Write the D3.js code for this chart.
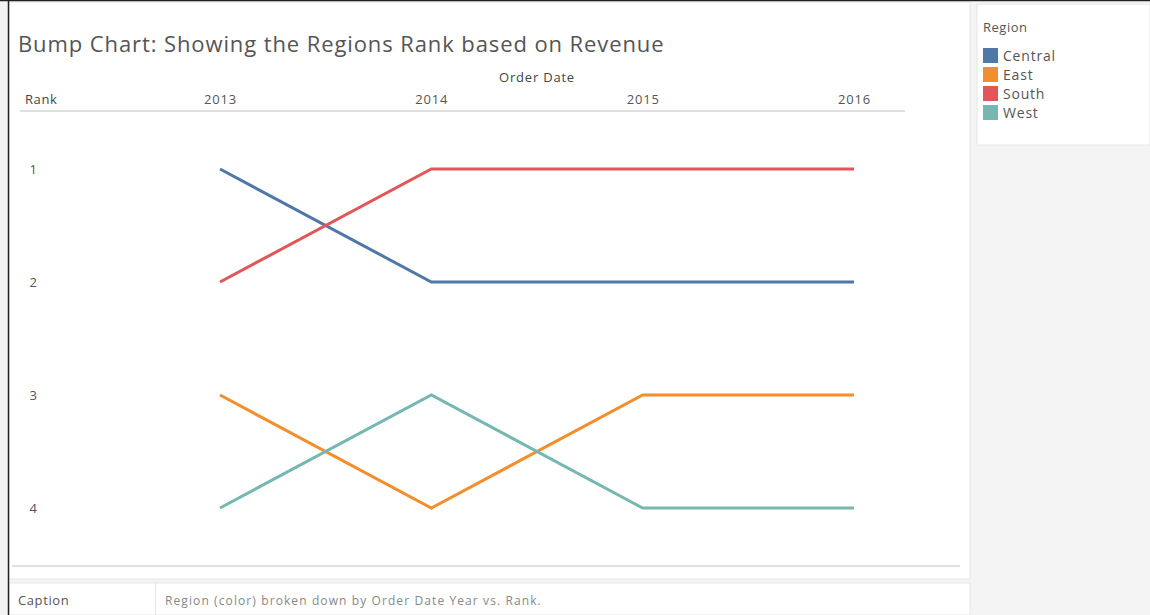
<!DOCTYPE html>
<html><head><meta charset="utf-8">
<script src="https://cdn.jsdelivr.net/npm/d3@7"></script>
<style>
body{margin:0;background:#f5f5f5;}
svg{display:block;font-family:"Open Sans","Noto Sans",sans-serif;}
</style></head>
<body><svg id="c" width="1150" height="615"></svg>
<script>
const years = ["2013","2014","2015","2016"];
const regions = ["Central","East","South","West"];
const rankCentral = [1,2,2,2];
const rankEast = [3,4,3,3];
const rankSouth = [2,1,1,1];
const rankWest = [4,3,4,4];
const rankTicks = [1,2,3,4];
const colors = ["#4e79a7","#f28e2b","#e15759","#76b7b2"];

const series = [
  {name:"Central", values:rankCentral},
  {name:"East", values:rankEast},
  {name:"South", values:rankSouth},
  {name:"West", values:rankWest}
];

const svg = d3.select("#c");
const FONT = "Open Sans, Noto Sans, sans-serif";

// panels
svg.append("rect").attr("x",0).attr("y",0).attr("width",1150).attr("height",615).attr("fill","#f4f4f4");
svg.append("rect").attr("x",9).attr("y",2).attr("width",961).attr("height",577).attr("fill","#fff").attr("stroke","#e6e6e6");
svg.append("rect").attr("x",977).attr("y",4).attr("width",173).attr("height",141).attr("fill","#fff").attr("stroke","#e6e6e6");
svg.append("rect").attr("x",9).attr("y",583).attr("width",961).attr("height",32).attr("fill","#fff").attr("stroke","#e6e6e6");
svg.append("line").attr("x1",155.5).attr("x2",155.5).attr("y1",583).attr("y2",615).attr("stroke","#e6e6e6");
// outer black border
svg.append("line").attr("x1",0).attr("x2",1150).attr("y1",0.5).attr("y2",0.5).attr("stroke","#222").attr("stroke-width",1.5);
svg.append("line").attr("x1",8.5).attr("x2",8.5).attr("y1",0).attr("y2",615).attr("stroke","#222").attr("stroke-width",1.5);

// title
svg.append("text").attr("x",18).attr("y",52).attr("font-size",22).attr("letter-spacing",0.9).attr("fill","#555")
  .text("Bump Chart: Showing the Regions Rank based on Revenue");

const x = d3.scalePoint().domain(years).range([220,854]);
const y = d3.scaleLinear().domain([1,4]).range([169,508]);

// header
svg.append("text").attr("x",537).attr("y",82).attr("text-anchor","middle").attr("font-size",13).attr("letter-spacing",0.8).attr("fill","#444").text("Order Date");
svg.append("text").attr("x",25).attr("y",104).attr("font-size",13).attr("letter-spacing",0.6).attr("fill","#444").text("Rank");
const xAxis = svg.append("g").attr("transform","translate(0,104)").call(d3.axisTop(x).tickSize(0).tickPadding(0));
xAxis.select(".domain").remove();
xAxis.selectAll("text").attr("font-size",13).attr("letter-spacing",0.8).attr("fill","#555").attr("font-family",FONT).attr("dy",0).attr("y",0);
svg.append("line").attr("x1",20).attr("x2",905).attr("y1",111).attr("y2",111).attr("stroke","#e0e0e0").attr("stroke-width",2);
svg.append("line").attr("x1",12).attr("x2",960).attr("y1",566).attr("y2",566).attr("stroke","#e0e0e0").attr("stroke-width",2);

// y axis
const yAxis = svg.append("g").attr("transform","translate(37,0)").call(d3.axisLeft(y).tickValues(rankTicks).tickFormat(d3.format("d")).tickSize(0).tickPadding(0));
yAxis.select(".domain").remove();
yAxis.selectAll("text").attr("font-size",13).attr("fill","#555").attr("font-family",FONT);

// lines
const color = d3.scaleOrdinal().domain(regions).range(colors);
const line = d3.line().x((d,i)=>x(years[i])).y(d=>y(d));
svg.append("g").selectAll("path").data(series).join("path")
  .attr("d",d=>line(d.values)).attr("fill","none")
  .attr("stroke",d=>color(d.name)).attr("stroke-width",3).attr("stroke-linejoin","miter");

// legend
svg.append("text").attr("x",983).attr("y",32).attr("font-size",13).attr("letter-spacing",0.5).attr("fill","#555").text("Region");
const lg = svg.append("g").selectAll("g").data(regions).join("g")
  .attr("transform",(d,i)=>`translate(983,${48+i*19})`);
lg.append("rect").attr("width",15).attr("height",15).attr("fill",d=>color(d));
lg.append("text").attr("x",20).attr("y",12.5).attr("font-size",14).attr("letter-spacing",0.8).attr("fill","#555").text(d=>d);

// caption
svg.append("text").attr("x",18).attr("y",605).attr("font-size",13).attr("letter-spacing",0.6).attr("fill","#555").text("Caption");
svg.append("text").attr("x",165).attr("y",605).attr("font-size",12).attr("letter-spacing",1.1).attr("fill","#888").text("Region (color) broken down by Order Date Year vs. Rank.");
</script></body></html>
